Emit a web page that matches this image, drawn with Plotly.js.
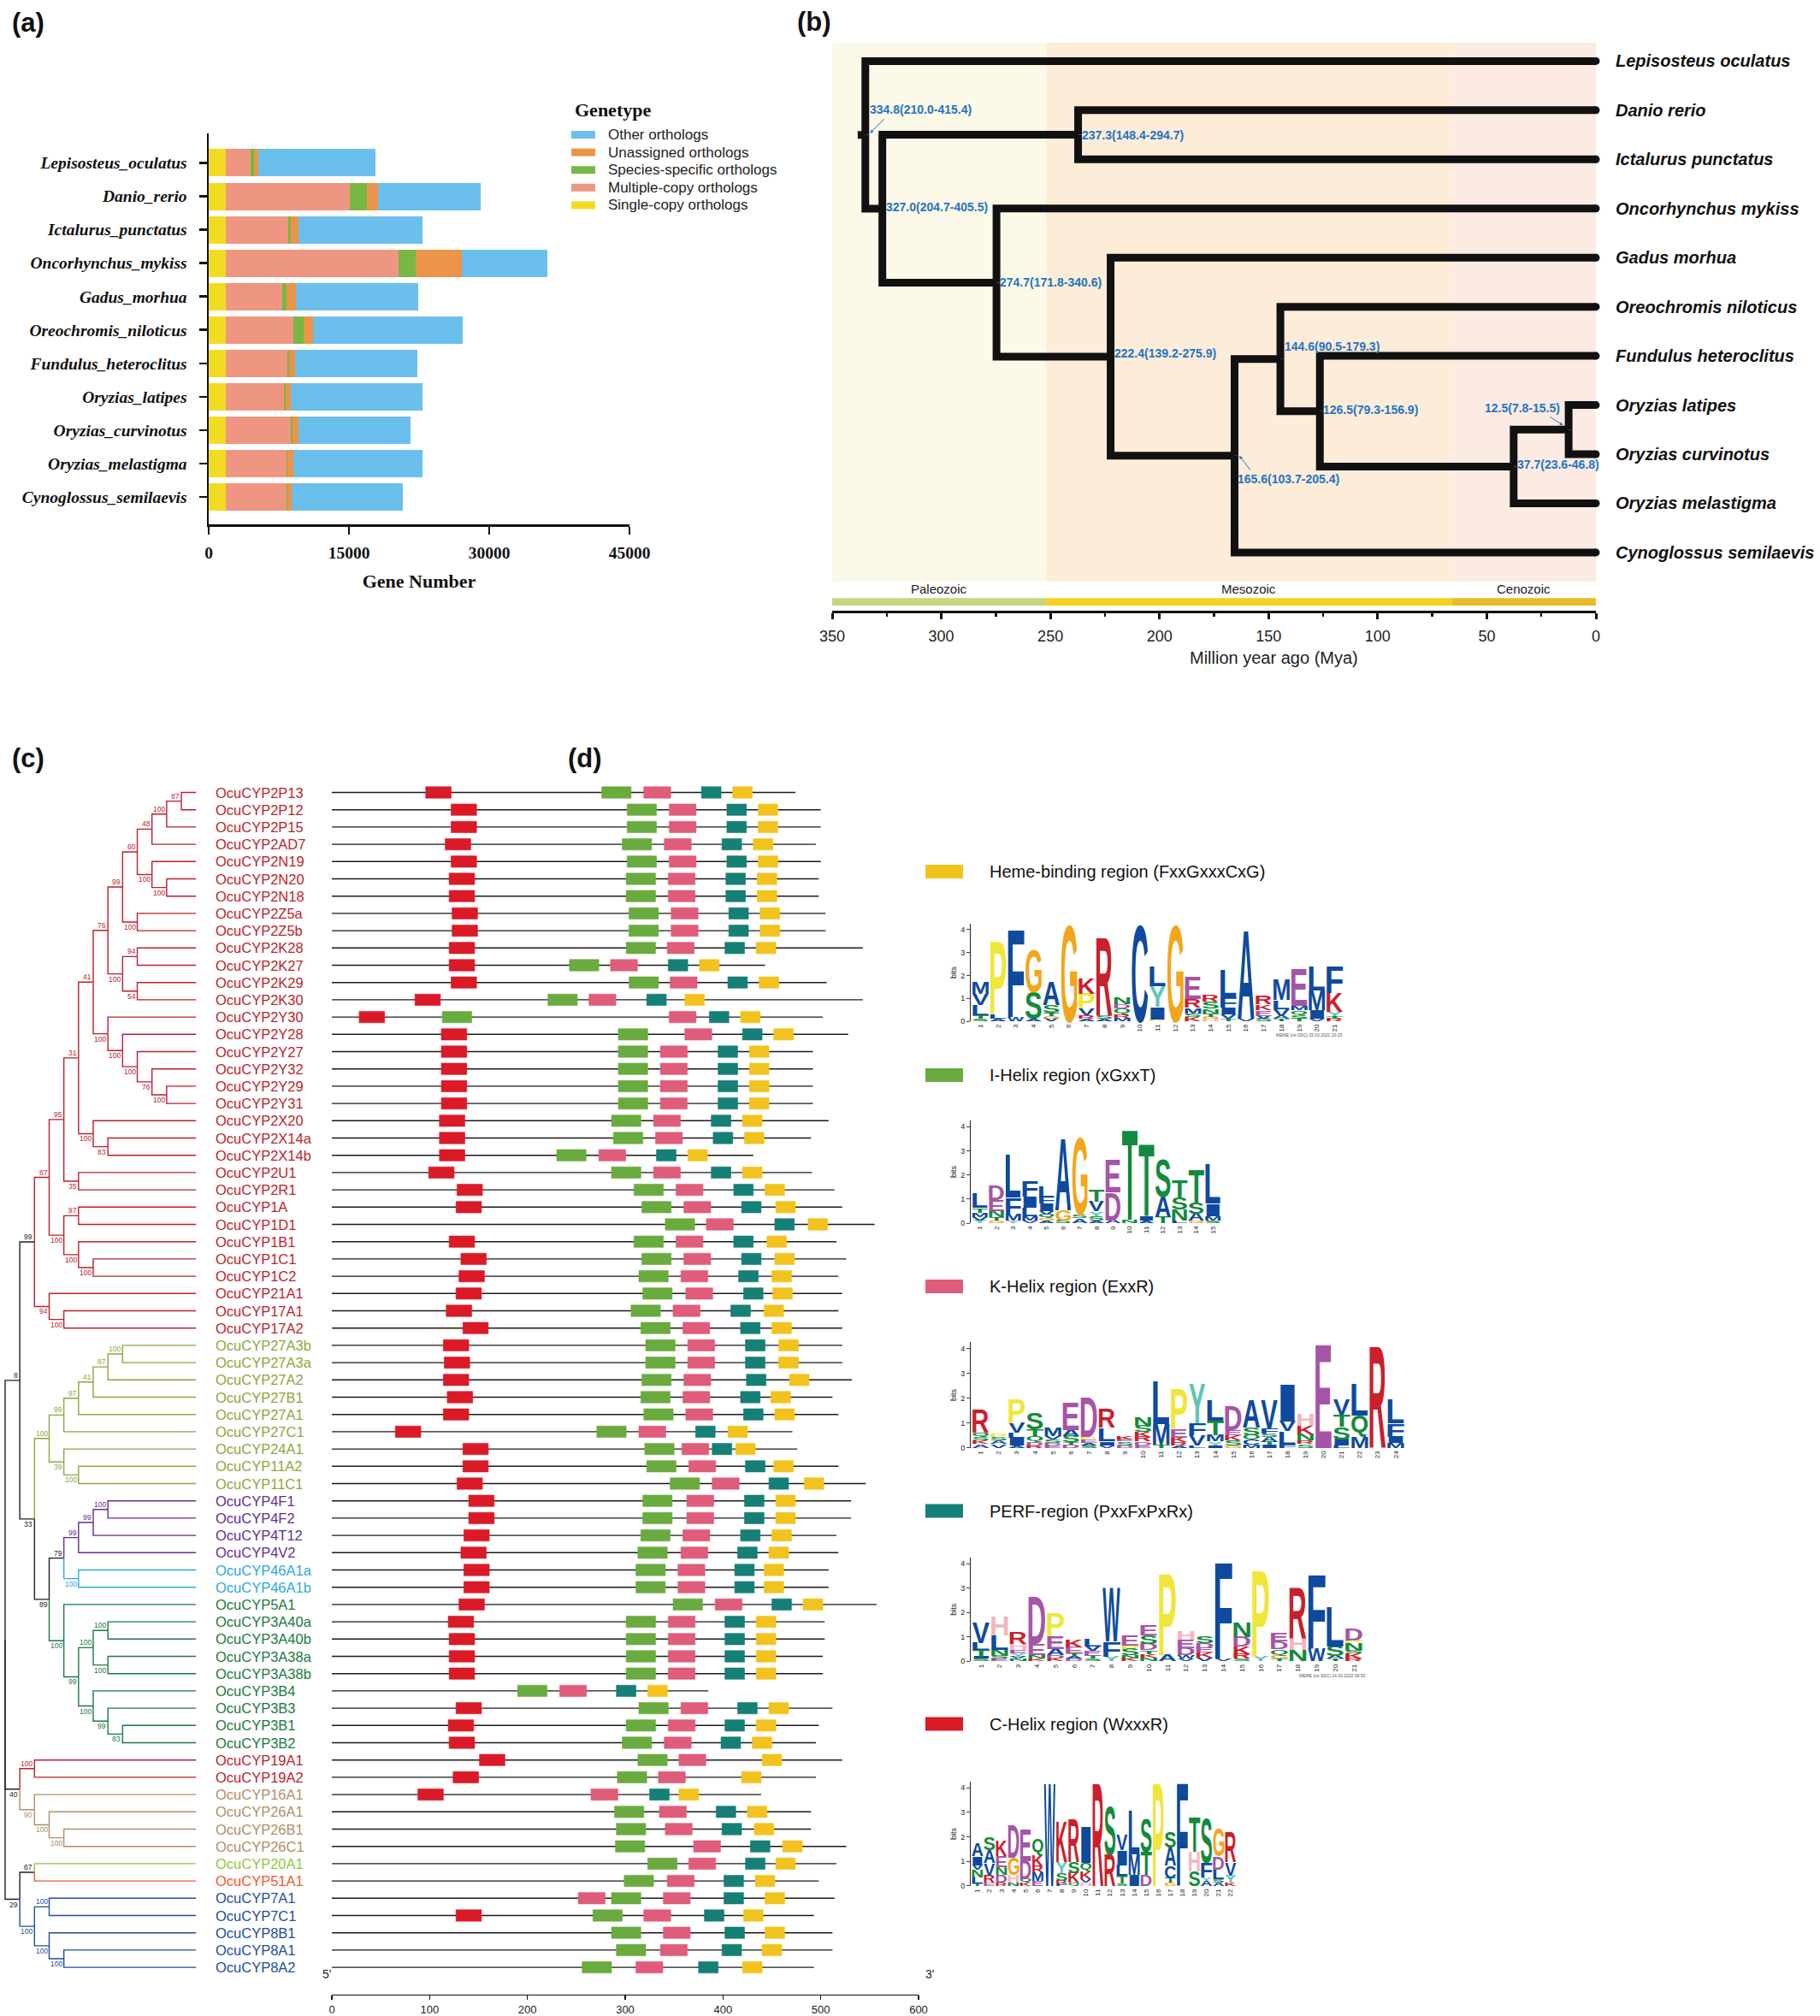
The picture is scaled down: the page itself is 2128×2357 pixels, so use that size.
<!DOCTYPE html>
<html>
<head>
<meta charset="utf-8">
<script src="https://cdn.plot.ly/plotly-3.0.1.min.js"></script>
<style>
html,body{margin:0;padding:0;background:#fff;}
#chart{width:2128px;height:2357px;}
</style>
</head>
<body>
<div id="chart"></div>
<script>
// ======================= DATA =======================
// ---- (a) orthologue composition per species ----
const speciesA = ['Lepisosteus_oculatus','Danio_rerio','Ictalurus_punctatus','Oncorhynchus_mykiss','Gadus_morhua','Oreochromis_niloticus','Fundulus_heteroclitus','Oryzias_latipes','Oryzias_curvinotus','Oryzias_melastigma','Cynoglossus_semilaevis'];
const singleCopy      = [1800,1800,1800,1800,1800,1800,1800,1800,1800,1800,1800];
const multipleCopy    = [2720,13300,6710,18500,6090,7290,6580,6220,7020,6490,6490];
const speciesSpecific = [310,1860,310,1820,440,1020,180,180,180,90,130];
const unassignedOrth  = [490,1150,800,4920,1020,1020,710,620,620,660,440];
const otherOrth       = [12500,10950,13210,9220,13030,16000,13030,14010,11920,13790,11920];
const geneTicks = [0,15000,30000,45000];

// ---- (b) divergence-time tree (internal labels = node ages, Mya) ----
const timeTreeNewick = "(Lepisosteus_oculatus,((Danio_rerio,Ictalurus_punctatus)237.3,(Oncorhynchus_mykiss,(Gadus_morhua,((Oreochromis_niloticus,(Fundulus_heteroclitus,((Oryzias_latipes,Oryzias_curvinotus)12.5,Oryzias_melastigma)37.7)126.5)144.6,Cynoglossus_semilaevis)165.6)222.4)274.7)327.0)334.8;";
const nodeAges = [334.8, 327.0, 237.3, 274.7, 222.4, 165.6, 144.6, 126.5, 37.7, 12.5];
const nodeLow  = [210.0, 204.7, 148.4, 171.8, 139.2, 103.7, 90.5, 79.3, 23.6, 7.8];
const nodeHigh = [415.4, 405.5, 294.7, 340.6, 275.9, 205.4, 179.3, 156.9, 46.8, 15.5];
const eraNames = ['Paleozoic','Mesozoic','Cenozoic'];
const eraStart = [350, 251.9, 66];
const eraEnd   = [251.9, 66, 0];
const timeTicks = [0,50,100,150,200,250,300,350];

// ---- (c) CYP gene tree (internal labels = bootstrap) ----
const cypNewick =
 "(((((((((((((OcuCYP2P13,OcuCYP2P12)87,OcuCYP2P15)100,OcuCYP2AD7)48,(OcuCYP2N19,(OcuCYP2N20,OcuCYP2N18)100)100)60,(OcuCYP2Z5a,OcuCYP2Z5b)100)99," +
 "((OcuCYP2K28,OcuCYP2K27)94,(OcuCYP2K29,OcuCYP2K30)54)100)76," +
 "(OcuCYP2Y30,(OcuCYP2Y28,(OcuCYP2Y27,(OcuCYP2Y32,(OcuCYP2Y29,OcuCYP2Y31)100)76)100)100)100)41," +
 "(OcuCYP2X20,(OcuCYP2X14a,OcuCYP2X14b)83)100)31,(OcuCYP2U1,OcuCYP2R1)35)95," +
 "((OcuCYP1A,OcuCYP1D1)97,(OcuCYP1B1,(OcuCYP1C1,OcuCYP1C2)100)100)100)87," +
 "(OcuCYP21A1,(OcuCYP17A1,OcuCYP17A2)100)94)99," +
 "(((((((OcuCYP27A3b,OcuCYP27A3a)100,OcuCYP27A2)87,OcuCYP27B1)41,OcuCYP27A1)97,OcuCYP27C1)99,(OcuCYP24A1,(OcuCYP11A2,OcuCYP11C1)100)39)100," +
 "(((((OcuCYP4F1,OcuCYP4F2)100,OcuCYP4T12)99,OcuCYP4V2)99,(OcuCYP46A1a,OcuCYP46A1b)100)79," +
 "(OcuCYP5A1,(((OcuCYP3A40a,OcuCYP3A40b)100,(OcuCYP3A38a,OcuCYP3A38b)100)100,(OcuCYP3B4,(OcuCYP3B3,(OcuCYP3B1,OcuCYP3B2)83)99)100)99)100)89)33)8," +
 "((OcuCYP19A1,OcuCYP19A2)100,(OcuCYP16A1,(OcuCYP26A1,(OcuCYP26B1,OcuCYP26C1)100)100)90)40," +
 "((OcuCYP20A1,OcuCYP51A1)67,((OcuCYP7A1,OcuCYP7C1)100,(OcuCYP8B1,(OcuCYP8A1,OcuCYP8A2)100)100)100)29);";

// ---- (d) conserved motif positions (amino-acid start positions) ----
const genes = ['OcuCYP2P13','OcuCYP2P12','OcuCYP2P15','OcuCYP2AD7','OcuCYP2N19','OcuCYP2N20','OcuCYP2N18','OcuCYP2Z5a','OcuCYP2Z5b','OcuCYP2K28',
 'OcuCYP2K27','OcuCYP2K29','OcuCYP2K30','OcuCYP2Y30','OcuCYP2Y28','OcuCYP2Y27','OcuCYP2Y32','OcuCYP2Y29','OcuCYP2Y31','OcuCYP2X20',
 'OcuCYP2X14a','OcuCYP2X14b','OcuCYP2U1','OcuCYP2R1','OcuCYP1A','OcuCYP1D1','OcuCYP1B1','OcuCYP1C1','OcuCYP1C2','OcuCYP21A1',
 'OcuCYP17A1','OcuCYP17A2','OcuCYP27A3b','OcuCYP27A3a','OcuCYP27A2','OcuCYP27B1','OcuCYP27A1','OcuCYP27C1','OcuCYP24A1','OcuCYP11A2',
 'OcuCYP11C1','OcuCYP4F1','OcuCYP4F2','OcuCYP4T12','OcuCYP4V2','OcuCYP46A1a','OcuCYP46A1b','OcuCYP5A1','OcuCYP3A40a','OcuCYP3A40b',
 'OcuCYP3A38a','OcuCYP3A38b','OcuCYP3B4','OcuCYP3B3','OcuCYP3B1','OcuCYP3B2','OcuCYP19A1','OcuCYP19A2','OcuCYP16A1','OcuCYP26A1',
 'OcuCYP26B1','OcuCYP26C1','OcuCYP20A1','OcuCYP51A1','OcuCYP7A1','OcuCYP7C1','OcuCYP8B1','OcuCYP8A1','OcuCYP8A2'];
const proteinLen = [474,500,500,495,500,498,498,505,505,543, 443,506,543,502,528,492,492,492,492,508, 490,431,491,514,522,555,516,526,518,522,
 518,522,522,522,532,512,518,471,476,518, 546,531,531,516,518,508,508,557,504,504, 502,502,385,512,498,495,522,495,439,490, 490,526,516,498,514,493,512,512,493];
const cHelixStart = [96,122,122,116,122,120,120,123,123,120, 120,122,85,28,112,112,112,112,112,110, 110,110,99,128,127,null,120,132,130,127,
 117,134,114,115,114,118,114,65,134,134, 128,140,140,135,132,135,135,130,119,120, 120,120,null,127,119,120,151,124,88,null, null,null,null,null,null,127,null,null,null];
const iHelixStart = [276,302,302,297,302,301,301,304,304,301, 243,304,221,113,293,293,293,293,293,286, 288,230,286,309,317,341,309,317,314,318,
 306,316,321,321,317,316,319,271,320,322, 346,318,318,316,313,311,311,349,301,301, 301,301,190,314,301,297,313,292,null,289, 291,290,323,299,286,267,286,291,256];
const kHelixStart = [319,345,345,340,345,344,344,347,347,343, 285,346,263,345,361,336,336,336,336,329, 331,273,329,352,360,383,352,360,357,362,
 349,359,364,364,360,359,362,314,358,365, 389,363,363,359,357,354,354,392,344,344, 344,344,233,357,344,340,355,334,265,335, 341,370,365,343,339,319,339,336,311];
const kHelixExtra = [null,null,null,null,null,null,null,null,null,null, null,null,null,null,null,null,null,null,null,null, null,null,null,null,null,null,null,null,null,null,
 null,null,null,null,null,null,null,null,null,null, null,null,null,null,null,null,null,null,null,null, null,null,null,null,null,null,null,null,null,null, null,null,null,null,252,null,null,null,null];
const perfStart = [378,404,404,399,404,403,403,406,406,402, 344,405,322,386,420,395,395,395,395,388, 390,332,388,411,419,453,411,419,416,421,
 408,418,423,423,424,418,421,372,389,423, 447,422,422,418,415,412,412,450,402,402, 402,402,291,415,402,398,null,null,325,393, 399,428,423,401,401,381,402,399,375];
const hemeStart = [410,436,436,431,436,435,435,438,438,434, 376,437,361,418,452,427,427,427,427,420, 422,364,420,443,454,487,445,453,450,451,
 442,450,457,457,468,449,453,405,413,452, 483,454,454,450,447,442,442,482,434,434, 434,434,323,447,434,430,440,419,355,425, 432,461,454,433,443,421,443,440,420];
const motifAxisTicks = [0,100,200,300,400,500,600];

// ---- motif sequence logos: per position, letters bottom->top with height (bits) ----
const hemeLogo = [
 [['S',0.1],['T',0.15],['L',0.45],['V',0.5],['M',0.55]],
 [['A',0.1],['L',0.2],['P',3.2]],
 [['W',0.17],['F',3.83]],
 [['A',0.1],['S',1.15],['G',1.85]],
 [['V',0.12],['G',0.1],['T',0.15],['S',0.35],['A',1.0]],
 [['G',4.2]],
 [['A',0.1],['R',0.15],['V',0.3],['P',0.65],['K',0.65]],
 [['A',0.1],['S',0.15],['R',3.45]],
 [['M',0.15],['R',0.15],['Q',0.25],['D',0.2],['N',0.3]],
 [['C',4.2]],
 [['P',0.08],['I',0.55],['Y',0.9],['L',0.85]],
 [['G',4.2]],
 [['K',0.18],['S',0.15],['M',0.25],['R',0.4],['E',0.95]],
 [['H',0.1],['G',0.1],['T',0.15],['N',0.2],['S',0.3],['R',0.3]],
 [['T',0.1],['V',0.2],['I',0.3],['F',0.45],['L',1.2]],
 [['V',0.1],['A',3.9]],
 [['S',0.12],['V',0.12],['E',0.25],['K',0.25],['R',0.4]],
 [['T',0.1],['A',0.12],['V',0.3],['L',0.4],['M',0.9]],
 [['T',0.12],['S',0.15],['Q',0.2],['M',0.2],['E',1.65]],
 [['V',0.1],['I',0.4],['M',0.85],['L',1.05]],
 [['R',0.12],['T',0.1],['Y',0.2],['K',0.8],['F',1.15]]
];
const iHelixLogo = [
 [['Y',0.12],['V',0.12],['M',0.2],['T',0.2],['L',0.6]],
 [['G',0.1],['T',0.15],['N',0.25],['E',0.45],['D',0.6]],
 [['Y',0.1],['M',0.25],['F',0.7],['L',1.8]],
 [['V',0.1],['M',0.2],['L',0.35],['I',0.45],['F',0.65]],
 [['A',0.1],['G',0.1],['Q',0.15],['V',0.15],['I',0.3],['F',0.25],['L',0.45]],
 [['S',0.12],['G',0.4],['A',3.0]],
 [['A',0.2],['S',0.15],['G',3.2]],
 [['A',0.1],['S',0.2],['Y',0.2],['V',0.4],['T',0.5]],
 [['A',0.12],['D',1.15],['E',1.4]],
 [['N',0.15],['T',3.75]],
 [['A',0.1],['I',0.2],['T',3.0]],
 [['T',0.25],['A',0.85],['S',1.55]],
 [['L',0.1],['N',0.45],['S',0.5],['T',0.75]],
 [['G',0.1],['A',0.3],['S',0.45],['T',1.4]],
 [['S',0.1],['M',0.2],['I',0.5],['L',1.65]]
];
const kHelixLogo = [
 [['A',0.15],['K',0.15],['S',0.15],['Q',0.15],['R',0.95]],
 [['V',0.15],['A',0.15],['S',0.15],['P',0.12]],
 [['A',0.1],['I',0.3],['L',0.2],['V',0.4],['P',1.0]],
 [['R',0.1],['D',0.15],['Q',0.2],['T',0.3],['S',0.65]],
 [['E',0.1],['D',0.1],['S',0.12],['V',0.15],['M',0.35]],
 [['D',0.12],['T',0.1],['S',0.25],['A',0.25],['E',1.1]],
 [['S',0.1],['A',0.1],['E',0.15],['P',0.1],['D',1.6]],
 [['V',0.1],['I',0.15],['L',0.55],['R',0.75]],
 [['D',0.1],['S',0.15],['E',0.1],['K',0.12]],
 [['E',0.1],['D',0.15],['R',0.2],['K',0.2],['S',0.25],['N',0.35]],
 [['T',0.12],['M',0.85],['L',1.75]],
 [['A',0.1],['R',0.12],['K',0.2],['E',0.35],['P',1.6]],
 [['L',0.1],['V',0.4],['F',0.5],['Y',1.6]],
 [['I',0.1],['Y',0.15],['M',0.25],['T',0.6],['L',0.85]],
 [['G',0.1],['S',0.2],['K',0.2],['E',0.2],['D',1.0]],
 [['M',0.12],['C',0.2],['Q',0.2],['S',0.3],['A',1.1]],
 [['I',0.12],['T',0.12],['A',0.2],['S',0.15],['F',0.2],['V',1.15]],
 [['F',0.12],['L',0.55],['V',0.4],['I',1.5]],
 [['S',0.15],['R',0.15],['N',0.25],['K',0.35],['H',0.5]],
 [['E',4.2]],
 [['L',0.1],['I',0.25],['S',0.5],['T',0.5],['V',0.6]],
 [['M',0.45],['Q',0.85],['L',1.3]],
 [['R',4.1]],
 [['M',0.2],['I',0.25],['F',0.55],['L',1.0]]
];
const perfLogo = [
 [['S',0.1],['I',0.1],['T',0.25],['L',0.3],['V',0.85]],
 [['E',0.1],['S',0.12],['N',0.25],['L',0.6],['H',0.75]],
 [['N',0.1],['V',0.1],['Y',0.12],['E',0.15],['H',0.25],['R',0.5]],
 [['K',0.1],['N',0.15],['E',0.45],['D',1.95]],
 [['K',0.12],['D',0.12],['A',0.25],['E',0.55],['P',0.95]],
 [['D',0.1],['A',0.1],['T',0.12],['E',0.25],['K',0.3]],
 [['S',0.1],['T',0.12],['E',0.2],['V',0.2],['L',0.3]],
 [['Y',0.2],['F',0.6],['W',2.25]],
 [['K',0.12],['N',0.12],['S',0.25],['P',0.15],['E',0.4]],
 [['N',0.15],['K',0.15],['T',0.15],['D',0.25],['S',0.35],['E',0.4]],
 [['A',0.25],['P',3.35]],
 [['V',0.1],['W',0.15],['D',0.3],['E',0.35],['H',0.35]],
 [['V',0.15],['K',0.2],['E',0.2],['D',0.2],['S',0.25]],
 [['V',0.1],['F',3.95]],
 [['S',0.1],['R',0.2],['K',0.3],['D',0.4],['N',0.6]],
 [['Y',0.2],['P',3.55]],
 [['T',0.1],['G',0.15],['Q',0.25],['D',0.3],['E',0.35]],
 [['N',0.45],['H',0.5],['R',2.1]],
 [['W',0.55],['F',3.05]],
 [['T',0.1],['A',0.12],['S',0.4],['L',1.65]],
 [['R',0.12],['K',0.2],['S',0.12],['N',0.3],['P',0.12],['D',0.5]]
];
const cHelixLogo = [
 [['T',0.1],['L',0.25],['N',0.3],['V',0.2],['I',0.35],['A',0.55]],
 [['E',0.12],['R',0.3],['V',0.5],['A',0.55],['S',0.55]],
 [['R',0.15],['D',0.3],['N',0.3],['E',0.45],['K',0.65]],
 [['N',0.15],['H',0.3],['G',0.7],['D',1.35]],
 [['K',0.12],['Q',0.15],['D',0.75],['E',1.3]],
 [['E',0.2],['M',0.35],['R',0.25],['K',0.45],['Q',0.7]],
 [['W',4.2]],
 [['F',0.1],['R',0.12],['S',0.3],['Y',0.45],['K',1.65]],
 [['Q',0.12],['K',0.4],['S',0.45],['R',1.75]],
 [['H',0.12],['V',0.15],['K',0.3],['Q',0.35],['I',1.5]],
 [['R',4.2]],
 [['R',1.3],['S',1.95]],
 [['S',0.1],['T',0.3],['L',0.45],['I',0.6],['V',0.65]],
 [['I',0.45],['M',0.85],['L',1.8]],
 [['D',0.45],['T',0.95],['S',1.35]],
 [['P',4.2]],
 [['G',0.12],['T',0.2],['C',0.5],['A',0.75],['S',0.65]],
 [['F',4.2]],
 [['S',0.6],['H',0.8],['T',1.4]],
 [['A',0.2],['Y',0.15],['F',0.6],['S',1.8]],
 [['A',0.12],['S',0.15],['L',0.4],['D',0.55],['G',1.15]],
 [['K',0.12],['Y',0.3],['V',0.55],['R',1.2]]
];
const logoBitTicks = [0,1,2,3,4];

// ======================= STYLE / LAYOUT =======================
const W = 2128, H = 2357;
const PX = v => v / W, PY = v => 1 - v / H;
const SANS = 'Liberation Sans, Arial, sans-serif';
const SERIF = 'Liberation Serif, Times New Roman, serif';
const traces = [], shapes = [], annotations = [];
const addAnn = a => { annotations.push(a); return annotations.length - 1; };

// panel letters
[['(a)',12,27],['(b)',930,26],['(c)',12,886],['(d)',662,886]].forEach(([t,x,y]) =>
  addAnn({xref:'paper',yref:'paper',x:PX(x),y:PY(y),xanchor:'left',yanchor:'middle',showarrow:false,text:t,
          font:{family:SANS,size:31,weight:'bold',color:'#111'}}));

// ---------------- (a) stacked bars ----------------
const stackSeries = [
  {name:'Single-copy orthologs',      vals:singleCopy,      color:'#f2dc22'},
  {name:'Multiple-copy orthologs',    vals:multipleCopy,    color:'#ef9683'},
  {name:'Species-specific orthologs', vals:speciesSpecific, color:'#76b843'},
  {name:'Unassigned orthologs',       vals:unassignedOrth,  color:'#ec9449'},
  {name:'Other orthologs',            vals:otherOrth,       color:'#6bbfec'}
];
stackSeries.forEach(s => traces.push({type:'bar',orientation:'h',y:speciesA,x:s.vals,name:s.name,width:0.82,
  marker:{color:s.color,line:{width:0}},xaxis:'x',yaxis:'y',showlegend:false,hoverinfo:'skip'}));
// legend (drawn manually to get wide swatches)
addAnn({xref:'paper',yref:'paper',x:PX(670),y:PY(129),xanchor:'left',yanchor:'middle',showarrow:false,text:'Genetype',
  font:{family:SERIF,size:22,weight:'bold',color:'#111'}});
stackSeries.slice().reverse().forEach((s,k) => {
  const yc = 157.5 + 20.6*k;
  shapes.push({type:'rect',xref:'paper',yref:'paper',x0:PX(668),x1:PX(696),y0:PY(yc-4.5),y1:PY(yc+4.5),fillcolor:s.color,line:{width:0}});
  addAnn({xref:'paper',yref:'paper',x:PX(709),y:PY(yc),xanchor:'left',yanchor:'middle',showarrow:false,text:s.name,
    font:{family:SANS,size:17,color:'#222'}});
});

// ---------------- (b) time tree ----------------
function parseNewick(s) {
  let i = 0;
  function node() {
    const n = {children:[]};
    if (s[i] === '(') {
      i++; n.children.push(node());
      while (s[i] === ',') { i++; n.children.push(node()); }
      i++;
    }
    let lab = '';
    while (i < s.length && !',();'.includes(s[i])) lab += s[i++];
    n.label = lab.trim();
    return n;
  }
  return node();
}
const tTree = parseNewick(timeTreeNewick);
const tipLabels = [];
(function lay(n){
  if (!n.children.length) { n.row = tipLabels.length; n.age = 0; tipLabels.push(n.label.replace(/_/g,' ')); return; }
  n.children.forEach(lay);
  n.age = parseFloat(n.label);
  n.row = (n.children[0].row + n.children[n.children.length-1].row)/2;
})(tTree);
const tx = [], ty = [], tNodes = [];
(function edges(n){
  if (!n.children.length) return;
  tNodes.push(n);
  n.children.forEach(c => { tx.push(n.age,n.age,c.age,null); ty.push(n.row,c.row,c.row,null); edges(c); });
})(tTree);
const ROOT_STEM = 3.5;
tx.push(tTree.age + ROOT_STEM, tTree.age, null); ty.push(tTree.row, tTree.row, null);
traces.push({type:'scatter',mode:'lines',x:tx,y:ty,xaxis:'x2',yaxis:'y2',line:{color:'#111',width:9},showlegend:false,hoverinfo:'skip'});
traces.push({type:'scatter',mode:'markers',x:tipLabels.map(()=>0),y:tipLabels.map((_,i)=>i),xaxis:'x2',yaxis:'y2',
  marker:{color:'#111',size:9},showlegend:false,hoverinfo:'skip',cliponaxis:false});
// era backgrounds and bar
const eraBg = ['#fdf9e8','#fcecd8','#fcebe3'];
const eraBar = ['#c6d67c','#f3d320','#e9bb2b'];
eraNames.forEach((e,k) => {
  shapes.push({type:'rect',xref:'x2',yref:'y2',x0:eraStart[k],x1:eraEnd[k],y0:-0.381,y1:10.59,fillcolor:eraBg[k],line:{width:0},layer:'below'});
  shapes.push({type:'rect',xref:'x2',yref:'y2',x0:eraStart[k],x1:eraEnd[k],y0:10.93,y1:11.08,fillcolor:eraBar[k],line:{width:0},layer:'below'});
  addAnn({xref:'x2',yref:'paper',x:(eraStart[k]+eraEnd[k])/2,y:PY(688),showarrow:false,text:e,xanchor:'center',yanchor:'middle',
    font:{family:SANS,size:15,color:'#222'}});
});
// node age labels
const BLUE = '#2474c4';
const nodeLblStyle = {
  '334.8':{anchor:'left',xs:4,ys:30,arrow:{hx:5.5,hy:2,ax:18,ay:-18}},
  '327':  {anchor:'left',xs:3,ys:2},
  '237.3':{anchor:'left',xs:3,ys:0},
  '274.7':{anchor:'left',xs:3,ys:0},
  '222.4':{anchor:'left',xs:3,ys:4},
  '165.6':{anchor:'left',xs:3,ys:-27,arrow:{hx:5.5,hy:0,ax:14,ay:18}},
  '144.6':{anchor:'left',xs:4,ys:15},
  '126.5':{anchor:'left',xs:3,ys:2},
  '37.7': {anchor:'left',xs:3,ys:2},
  '12.5': {anchor:'right',xs:-9,ys:25,arrow:{hx:-6.5,hy:5,ax:-17,ay:-11}}
};
tNodes.forEach(n => {
  const k = nodeAges.findIndex(a => Math.abs(a - n.age) < 1e-6);
  const txt = nodeAges[k].toFixed(1) + '(' + nodeLow[k].toFixed(1) + '-' + nodeHigh[k].toFixed(1) + ')';
  const st = nodeLblStyle[String(n.age)] || {anchor:'left',xs:3,ys:0};
  addAnn({xref:'x2',yref:'y2',x:n.age,y:n.row,xanchor:st.anchor,yanchor:'middle',xshift:st.xs,yshift:st.ys,showarrow:false,
    text:txt,font:{family:SANS,size:14,weight:'bold',color:BLUE},borderpad:0});
  if (st.arrow) addAnn({xref:'x2',yref:'y2',x:n.age,y:n.row,xshift:st.arrow.hx,yshift:st.arrow.hy,text:'',showarrow:true,
    ax:st.arrow.ax,ay:st.arrow.ay,arrowcolor:BLUE,arrowwidth:1,arrowhead:2,arrowsize:0.8,standoff:0,startstandoff:0});
});
addAnn({xref:'paper',yref:'paper',x:PX(1489),y:PY(769),xanchor:'center',yanchor:'middle',showarrow:false,
  text:'Million year ago (Mya)',font:{family:SANS,size:20,color:'#222'}});

// ---------------- (c) CYP gene tree ----------------
const cTree = parseNewick(cypNewick);
const geneRow = {}; genes.forEach((g,i) => geneRow[g] = i);
let maxInner = 0;
(function depth(n,d,p){ n.parent = p; n.depth = d; if (n.children.length) { maxInner = Math.max(maxInner,d); n.children.forEach(c=>depth(c,d+1,n)); } })(cTree,0,null);
const LEAF_X = maxInner + 1;
const leafNode = {};
(function lay(n){
  if (!n.children.length) { n.row = geneRow[n.label]; n.x = LEAF_X; leafNode[n.label] = n; return; }
  n.children.forEach(lay);
  n.x = n.depth;
  n.row = (n.children[0].row + n.children[n.children.length-1].row)/2;
})(cTree);
const cladeColors = [
  ['OcuCYP2P13','OcuCYP1C2','#bd1e2d'], ['OcuCYP21A1','OcuCYP17A2','#bd1e2d'],
  ['OcuCYP27A3b','OcuCYP11C1','#8aa83a'], ['OcuCYP4F1','OcuCYP4V2','#662d91'],
  ['OcuCYP46A1a','OcuCYP46A1b','#2aa9e0'], ['OcuCYP5A1','OcuCYP3B2','#1b7a40'],
  ['OcuCYP19A1','OcuCYP19A2','#bd1e2d'], ['OcuCYP16A1','OcuCYP26C1','#b08e66'],
  ['OcuCYP20A1','OcuCYP20A1','#8dc63f'], ['OcuCYP51A1','OcuCYP51A1','#f15a29'],
  ['OcuCYP7A1','OcuCYP8A2','#1d4e9c']
];
const TREE_BLACK = '#231f20';
(function clr(n){ n.color = TREE_BLACK; n.children.forEach(clr); })(cTree);
const anc = n => { const a = []; while (n) { a.push(n); n = n.parent; } return a; };
cladeColors.forEach(([a,b,col]) => {
  const setB = new Set(anc(leafNode[b]));
  const m = anc(leafNode[a]).find(n => setB.has(n));
  (function paint(n){ n.color = col; n.children.forEach(paint); })(m);
});
const colorSeg = {};
(function seg(n){
  n.children.forEach((c,ci) => {
    if (!colorSeg[c.color]) colorSeg[c.color] = {x:[],y:[]};
    colorSeg[c.color].x.push(n.x,n.x,c.x,null); colorSeg[c.color].y.push(n.row,c.row,c.row,null);
    c.first = (ci === 0);
    seg(c);
  });
})(cTree);
Object.keys(colorSeg).forEach(col => traces.push({type:'scatter',mode:'lines',x:colorSeg[col].x,y:colorSeg[col].y,
  xaxis:'x3',yaxis:'y3',line:{color:col,width:1.4},showlegend:false,hoverinfo:'skip'}));
(function boot(n){
  if (n.children.length && n.parent) {
    addAnn({xref:'x3',yref:'y3',x:n.x,y:n.row,xanchor:'right',yanchor:n.first?'bottom':'top',xshift:-1,yshift:0,
      showarrow:false,text:n.label,borderpad:0,font:{family:SANS,size:8.5,color:n.color}});
  }
  n.children.forEach(boot);
})(cTree);
Object.values(leafNode).forEach(l => addAnn({xref:'x3',yref:'y3',x:l.x,y:l.row,xanchor:'left',yanchor:'middle',xshift:22,
  showarrow:false,text:l.label,borderpad:0,font:{family:SANS,size:16.5,color:l.color}}));

// ---------------- (d) motif diagram ----------------
const lx = [], ly = [];
proteinLen.forEach((L,i) => { lx.push(0,L,null); ly.push(i,i,null); });
traces.push({type:'scatter',mode:'lines',x:lx,y:ly,xaxis:'x4',yaxis:'y4',line:{color:'#1a1a1a',width:1.4},showlegend:false,hoverinfo:'skip'});
const BOX_H = 0.33;
const motifs = [
  {starts:cHelixStart, width:26,   color:'#db1a27'},
  {starts:iHelixStart, width:30,   color:'#6aab3f'},
  {starts:kHelixStart, width:27.5, color:'#e05c7b'},
  {starts:kHelixExtra, width:27.5, color:'#e05c7b'},
  {starts:perfStart,   width:20,   color:'#167f76'},
  {starts:hemeStart,   width:20,   color:'#f2c31f'}
];
motifs.forEach(m => {
  const x = [], y = [];
  m.starts.forEach((s,i) => { if (s === null) return;
    x.push(s, s+m.width, s+m.width, s, s, null); y.push(i-BOX_H, i-BOX_H, i+BOX_H, i+BOX_H, i-BOX_H, null); });
  traces.push({type:'scatter',mode:'lines',x,y,fill:'toself',fillcolor:m.color,line:{color:m.color,width:0.6},
    xaxis:'x4',yaxis:'y4',showlegend:false,hoverinfo:'skip'});
});
addAnn({xref:'paper',yref:'paper',x:PX(375),y:PY(2318),showarrow:false,text:"5'",font:{family:SANS,size:14,color:'#222'}});
addAnn({xref:'paper',yref:'paper',x:PX(1087),y:PY(2318),showarrow:false,text:"3'",font:{family:SANS,size:14,color:'#222'}});

// ---------------- motif legend + logos ----------------
const aaColor = {A:'#0f4a9e',C:'#0f4a9e',F:'#0f4a9e',I:'#0f4a9e',L:'#0f4a9e',M:'#0f4a9e',V:'#0f4a9e',W:'#0f4a9e',
  N:'#138a3c',Q:'#138a3c',S:'#138a3c',T:'#138a3c',D:'#a654a6',E:'#a654a6',K:'#cb1f2c',R:'#cb1f2c',
  H:'#f5b5bf',G:'#f3a51c',P:'#f0e63a',Y:'#5ec6b4'};
const logos = [
  {data:hemeLogo,   n:'5', swatchY:1019,   color:'#f2c31f', title:'Heme-binding region (FxxGxxxCxG)', x0:1135, step:20.7,  y0:1194,   ppb:26.8},
  {data:iHelixLogo, n:'6', swatchY:1257,   color:'#6aab3f', title:'I-Helix region (xGxxT)',           x0:1135, step:19.46, y0:1430,   ppb:28.2},
  {data:kHelixLogo, n:'7', swatchY:1504,   color:'#e05c7b', title:'K-Helix region (ExxR)',            x0:1135, step:21.1,  y0:1692.7, ppb:29.0},
  {data:perfLogo,   n:'8', swatchY:1766.6, color:'#167f76', title:'PERF-region (PxxFxPxRx)',          x0:1135, step:21.8,  y0:1942.3, ppb:28.5},
  {data:cHelixLogo, n:'9', swatchY:2015.5, color:'#db1a27', title:'C-Helix region (WxxxR)',           x0:1135, step:14.1,  y0:2204.9, ppb:28.7}
];
const LOGO_FS = 40, LOGO_FAMILY = 'Liberation Sans';
const letterItems = [];
const layoutAxes = {};
logos.forEach(lg => {
  shapes.push({type:'rect',xref:'paper',yref:'paper',x0:PX(1082),x1:PX(1126),y0:PY(lg.swatchY-8),y1:PY(lg.swatchY+8),fillcolor:lg.color,line:{width:0}});
  addAnn({xref:'paper',yref:'paper',x:PX(1155),y:PY(lg.swatchY),xanchor:'left',yanchor:'middle',showarrow:false,text:lg.title,
    font:{family:SANS,size:20,color:'#111'}});
  const N = lg.data.length, TOP = 4.25;
  layoutAxes['xaxis'+lg.n] = {domain:[PX(lg.x0),PX(lg.x0+lg.step*(N+0.1))],range:[0.45,N+0.55],anchor:'y'+lg.n,
    tickvals:lg.data.map((_,p)=>p+1),ticks:'',showline:false,showgrid:false,zeroline:false,tickangle:-90,
    tickfont:{family:SANS,size:8,color:'#222'},ticklabelstandoff:1};
  layoutAxes['yaxis'+lg.n] = {domain:[PY(lg.y0),PY(lg.y0-lg.ppb*TOP)],range:[0,TOP],anchor:'x'+lg.n,tickvals:logoBitTicks,
    ticks:'outside',ticklen:4,tickwidth:1,showline:true,linewidth:1,linecolor:'#222',showgrid:false,zeroline:false,
    tickfont:{family:SANS,size:9,color:'#222'},title:{text:'bits',font:{family:SANS,size:9,color:'#222'},standoff:3}};
  lg.data.forEach((stack,p) => {
    let base = 0;
    stack.forEach(([ch,h]) => {
      const idx = addAnn({xref:'x'+lg.n,yref:'y'+lg.n,x:p+1,y:base+h/2,xanchor:'center',yanchor:'middle',showarrow:false,
        text:ch,borderpad:0,font:{family:LOGO_FAMILY,size:LOGO_FS,weight:'bold',color:aaColor[ch]||'#888'}});
      letterItems.push({idx,ch,xa:'xaxis'+lg.n,ya:'yaxis'+lg.n,pos:p+1,bottom:base,top:base+h});
      base += h;
    });
  });
});
addAnn({xref:'paper',yref:'paper',x:PX(1571),y:PY(1210),xanchor:'right',yanchor:'middle',showarrow:false,
  text:'MEME (no SSC) 15.03.2022 20:25',font:{family:SANS,size:5,color:'#555'}});
addAnn({xref:'paper',yref:'paper',x:PX(1598),y:PY(1959),xanchor:'right',yanchor:'middle',showarrow:false,
  text:'MEME (no SSC) 14.03.2022 09:52',font:{family:SANS,size:5,color:'#555'}});

// ======================= LAYOUT =======================
const treeY = {domain:[PY(2332),PY(880)],range:[(2332-926.5)/20.2,(880-926.5)/20.2],visible:false,showgrid:false,zeroline:false};
const layout = Object.assign({
  width:W,height:H,margin:{l:0,r:0,t:0,b:0},paper_bgcolor:'#fff',plot_bgcolor:'rgba(0,0,0,0)',
  barmode:'stack',showlegend:false,shapes,annotations,
  xaxis:{domain:[PX(244),PX(736)],range:[0,45000],anchor:'y',tickvals:geneTicks,tickformat:'d',ticks:'outside',ticklen:9,tickwidth:2.5,
    tickcolor:'#111',showline:true,linewidth:2.5,linecolor:'#111',showgrid:false,zeroline:false,ticklabelstandoff:5,
    tickfont:{family:SERIF,size:19.5,weight:'bold',color:'#111'},
    title:{text:'Gene Number',font:{family:SERIF,size:22,weight:'bold',color:'#111'},standoff:16}},
  yaxis:{domain:[PY(613),PY(156)],type:'category',categoryorder:'array',categoryarray:speciesA,range:[10.82,-0.883],anchor:'x',
    ticks:'outside',ticklen:9,tickwidth:2.5,tickcolor:'#111',showline:true,linewidth:2.5,linecolor:'#111',showgrid:false,zeroline:false,
    ticklabelstandoff:10,tickfont:{family:SERIF,size:19.5,weight:'bold',style:'italic',color:'#111'}},
  xaxis2:{domain:[PX(973),PX(1866)],range:[350,0],anchor:'y2',tickvals:timeTicks,ticks:'outside',ticklen:7,tickwidth:3,tickcolor:'#111',
    showline:true,linewidth:3,linecolor:'#111',showgrid:false,zeroline:false,ticklabelstandoff:4,
    minor:{dtick:25,tick0:0,ticks:'outside',ticklen:4,tickwidth:2.5,tickcolor:'#111',showgrid:false},
    tickfont:{family:SANS,size:18,color:'#222'}},
  yaxis2:{domain:[PY(714),PY(49.5)],range:[11.185,-0.381],anchor:'x2',side:'right',tickvals:tipLabels.map((_,i)=>i),ticktext:tipLabels,
    ticks:'',showline:false,showgrid:false,zeroline:false,ticklabelstandoff:22,
    tickfont:{family:SANS,size:20,weight:'bold',style:'italic',color:'#111'}},
  xaxis3:{domain:[0,PX(380)],range:[-0.349,(380/17.17)-0.349],anchor:'y3',visible:false,showgrid:false,zeroline:false},
  yaxis3:Object.assign({anchor:'x3'},treeY),
  xaxis4:{domain:[PX(388),PX(1074)],range:[0,600],anchor:'y4',tickvals:motifAxisTicks,ticks:'outside',ticklen:5,tickwidth:1.2,tickcolor:'#111',
    showline:true,linewidth:1.2,linecolor:'#111',showgrid:false,zeroline:false,tickfont:{family:SANS,size:13,color:'#222'}},
  yaxis4:Object.assign({anchor:'x4'},treeY)
}, layoutAxes);

// stretch logo letters to their stack boxes (glyph ink box -> axis box)
function stretchLetters(gd) {
  const fl = gd._fullLayout;
  const ctx = document.createElement('canvas').getContext('2d');
  ctx.font = 'bold ' + LOGO_FS + 'px "' + LOGO_FAMILY + '"';
  const cache = {};
  letterItems.forEach(it => {
    const g = gd.querySelector('.annotation[data-index="' + it.idx + '"]');
    if (!g) return;
    const t = g.querySelector('text.annotation-text') || g.querySelector('text');
    if (!t) return;
    const m = cache[it.ch] || (cache[it.ch] = ctx.measureText(it.ch));
    const bb = t.getBBox();
    const asc = (m.fontBoundingBoxAscent !== undefined) ? m.fontBoundingBoxAscent : 0.905*LOGO_FS;
    const base = bb.y + asc;
    const inkL = bb.x - m.actualBoundingBoxLeft, inkR = bb.x + m.actualBoundingBoxRight;
    const inkT = base - m.actualBoundingBoxAscent, inkB = base + m.actualBoundingBoxDescent;
    const ctm = t.getCTM();
    const p1 = new DOMPoint(inkL, inkT).matrixTransform(ctm);
    const p2 = new DOMPoint(inkR, inkB).matrixTransform(ctm);
    const xa = fl[it.xa], ya = fl[it.ya];
    const X0 = xa._offset + xa.l2p(it.pos - 0.47), X1 = xa._offset + xa.l2p(it.pos + 0.47);
    const Yt = ya._offset + ya.l2p(it.top), Yb = ya._offset + ya.l2p(it.bottom);
    const sx = (X1 - X0) / (p2.x - p1.x), sy = (Yb - Yt) / (p2.y - p1.y);
    const A = new DOMMatrix([sx, 0, 0, sy, X0 - sx*p1.x, Yt - sy*p1.y]);
    const P = DOMMatrix.fromMatrix(t.parentNode.getCTM());
    const cons = t.transform.baseVal.consolidate();
    const M0 = cons ? DOMMatrix.fromMatrix(cons.matrix) : new DOMMatrix();
    const Mn = P.inverse().multiply(A).multiply(P).multiply(M0);
    t.setAttribute('transform', 'matrix(' + [Mn.a,Mn.b,Mn.c,Mn.d,Mn.e,Mn.f].join(' ') + ')');
  });
}

const gd = document.getElementById('chart');
Plotly.newPlot(gd, traces, layout, {staticPlot:true, displayModeBar:false}).then(() => stretchLetters(gd));
</script>
</body>
</html>
